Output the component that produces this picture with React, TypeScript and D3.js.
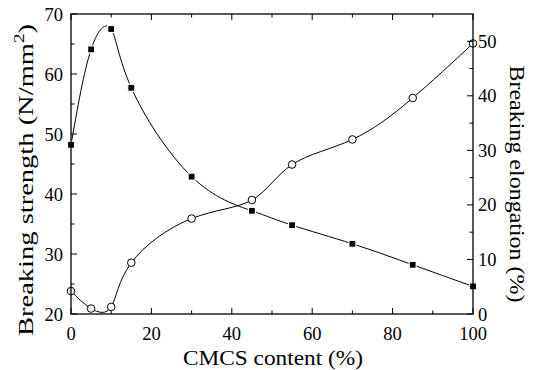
import React from "react";
import * as d3 from "d3";

const content = [0, 5, 10, 15, 30, 45, 55, 70, 85, 100];
const strength = [48.2, 64.1, 67.5, 57.7, 42.9, 37.2, 34.8, 31.7, 28.2, 24.6];
const elongation = [4.2, 1.0, 1.3, 9.4, 17.5, 20.9, 27.4, 32.0, 39.6, 49.6];
const xTicks = [0, 20, 40, 60, 80, 100];
const yLeftTicks = [20, 30, 40, 50, 60, 70];
const yRightTicks = [0, 10, 20, 30, 40, 50];

const W = 535, H = 370;
const L = 71, R = 473, T = 14, B = 314;

export default function App() {
  const x = d3.scaleLinear().domain([0, 100]).range([L, R]);
  const yL = d3.scaleLinear().domain([20, 70]).range([B, T]);
  const yR = d3.scaleLinear().domain([0, 55]).range([B, T]);

  const lineL = d3.line<number>().x((_, i) => x(content[i])).y((d) => yL(d)).curve(d3.curveNatural);
  const lineR = d3.line<number>().x((_, i) => x(content[i])).y((d) => yR(d)).curve(d3.curveNatural);

  const font = "Liberation Serif, DejaVu Serif, Times New Roman, serif";
  const fs = 18.5;
  const major = 6, minor = 3.5;

  const xMinor = d3.range(0, 101, 10).filter((v) => v % 20 !== 0);
  const yLMinor = d3.range(25, 70, 10);
  const yRMinor = d3.range(5, 55, 10);

  return (
    <svg width={W} height={H} style={{ position: "absolute", left: 0, top: 0 }}>
      <rect x={0} y={0} width={W} height={H} fill="#fff" />
      <defs>
        <clipPath id="clip">
          <rect x={L} y={T - 2} width={R - L} height={B - T + 2} />
        </clipPath>
      </defs>
      <g clipPath="url(#clip)">
        <path d={lineL(strength) || ""} fill="none" stroke="#000" strokeWidth={1} />
        <path d={lineR(elongation) || ""} fill="none" stroke="#000" strokeWidth={1} />
      </g>
      {strength.map((v, i) => (
        <rect key={"s" + i} x={x(content[i]) - 3.5} y={yL(v) - 3.5} width={7} height={7} fill="#000" stroke="#fff" strokeWidth={1.2} />
      ))}
      {elongation.map((v, i) => (
        <circle key={"e" + i} cx={x(content[i])} cy={yR(v)} r={3.8} fill="#fff" stroke="#000" strokeWidth={1} />
      ))}
      <rect x={L} y={T} width={R - L} height={B - T} fill="none" stroke="#000" strokeWidth={1.3} />
      {xTicks.map((v) => (
        <g key={"xt" + v}>
          <line x1={x(v)} x2={x(v)} y1={B} y2={B - major} stroke="#000" strokeWidth={1} />
          <line x1={x(v)} x2={x(v)} y1={T} y2={T + major} stroke="#000" strokeWidth={1} />
          <text x={x(v)} y={340} textAnchor="middle" fontFamily={font} fontSize={fs}>{v}</text>
        </g>
      ))}
      {xMinor.map((v) => (
        <g key={"xm" + v}>
          <line x1={x(v)} x2={x(v)} y1={B} y2={B - minor} stroke="#000" strokeWidth={1} />
          <line x1={x(v)} x2={x(v)} y1={T} y2={T + minor} stroke="#000" strokeWidth={1} />
        </g>
      ))}
      {yLeftTicks.map((v) => (
        <g key={"yl" + v}>
          <line x1={L} x2={L + major} y1={yL(v)} y2={yL(v)} stroke="#000" strokeWidth={1} />
          <text x={63} y={yL(v) + 6.5} textAnchor="end" fontFamily={font} fontSize={fs}>{v}</text>
        </g>
      ))}
      {yLMinor.map((v) => (
        <line key={"ylm" + v} x1={L} x2={L + minor} y1={yL(v)} y2={yL(v)} stroke="#000" strokeWidth={1} />
      ))}
      {yRightTicks.map((v) => (
        <g key={"yr" + v}>
          <line x1={R} x2={R - major} y1={yR(v)} y2={yR(v)} stroke="#000" strokeWidth={1} />
          <text x={478} y={yR(v) + 6.5} textAnchor="start" fontFamily={font} fontSize={fs}>{v}</text>
        </g>
      ))}
      {yRMinor.map((v) => (
        <line key={"yrm" + v} x1={R} x2={R - minor} y1={yR(v)} y2={yR(v)} stroke="#000" strokeWidth={1} />
      ))}
      <text x={273} y={365} textAnchor="middle" fontFamily={font} fontSize={21} textLength={180} lengthAdjust="spacingAndGlyphs">CMCS content (%)</text>
      <text transform="translate(33, 180) rotate(-90)" textAnchor="middle" fontFamily={font} fontSize={21} textLength={312} lengthAdjust="spacingAndGlyphs">
        Breaking strength (N/mm<tspan dy={-9} fontSize={14}>2</tspan><tspan dy={9}>)</tspan>
      </text>
      <text transform="translate(510, 184) rotate(90)" textAnchor="middle" fontFamily={font} fontSize={21} textLength={237} lengthAdjust="spacingAndGlyphs">
        Breaking elongation (%)
      </text>
    </svg>
  );
}
